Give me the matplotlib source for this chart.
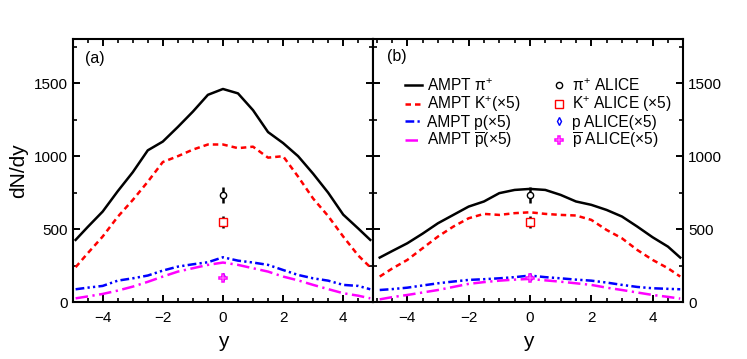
import matplotlib.pyplot as plt
from matplotlib.lines import Line2D
from matplotlib.ticker import MultipleLocator

plt.rcParams['font.family'] = ['Liberation Sans', 'DejaVu Sans']
plt.rcParams['mathtext.fontset'] = 'custom'
plt.rcParams['mathtext.rm'] = 'Liberation Sans'
plt.rcParams['mathtext.it'] = 'Liberation Sans'
plt.rcParams['mathtext.bf'] = 'Liberation Sans:bold'

# rapidity grid of the AMPT curves
y_grid = [-4.9, -4.5, -4, -3.5, -3, -2.5, -2, -1.5, -1, -0.5, 0,
          0.5, 1, 1.5, 2, 2.5, 3, 3.5, 4, 4.5, 4.9]

# panel (a)
pi_a = [427, 515, 621, 760, 890, 1040, 1100, 1200, 1305, 1420, 1460,
        1430, 1315, 1165, 1090, 1000, 880, 750, 600, 505, 427]
k_a = [240, 335, 450, 585, 700, 825, 960, 1000, 1045, 1080, 1080,
       1055, 1065, 990, 1000, 860, 710, 590, 450, 320, 240]
p_a = [89, 100, 112, 148, 164, 183, 217, 244, 260, 274, 308,
       285, 272, 256, 221, 187, 164, 148, 119, 112, 89]
pbar_a = [27, 40, 57, 80, 107, 140, 176, 210, 233, 256, 272,
          256, 233, 210, 176, 150, 119, 90, 62, 45, 27]

# panel (b)
pi_b = [306, 350, 404, 470, 541, 598, 655, 690, 747, 769, 776,
        769, 735, 690, 667, 632, 587, 518, 445, 381, 306]
k_b = [176, 230, 290, 370, 450, 518, 575, 605, 598, 610, 616,
       605, 598, 594, 564, 495, 438, 358, 290, 233, 176]
p_b = [84, 90, 100, 115, 130, 142, 153, 158, 164, 172, 183,
       172, 164, 155, 148, 135, 119, 105, 96, 92, 89]
pbar_b = [20, 35, 50, 67, 84, 105, 126, 138, 148, 155, 160,
          150, 141, 130, 119, 100, 84, 67, 50, 37, 25]

# ALICE points at y = 0 (value, error)
alice_pi = (733, 55)
alice_k = (548, 40)
alice_p = (170, 12)
alice_pbar = (165, 12)

line_labels = [r'AMPT $\pi^{+}$', r'AMPT K$^{+}$(×5)', 'AMPT p(×5)',
               r'AMPT $\overline{\mathrm{p}}$(×5)']
point_labels = [r'$\pi^{+}$ ALICE', r'K$^{+}$ ALICE (×5)', 'p ALICE(×5)',
                r'$\overline{\mathrm{p}}$ ALICE(×5)']

line_styles = [
    dict(color='black', ls='-'),
    dict(color='red', ls=(0, (2.2, 1.6))),
    dict(color='blue', ls=(0, (3.5, 1.3, 0.9, 1.3, 0.9, 1.3))),
    dict(color='magenta', ls=(0, (5, 1.8, 0.9, 1.8))),
]
point_styles = [
    dict(marker='o', ms=4.5, mfc='white', mec='black', mew=1),
    dict(marker='s', ms=5.5, mfc='white', mec='red', mew=1),
    dict(marker='d', ms=4, mfc='white', mec='blue', mew=1),
    dict(marker='P', ms=5.5, mfc='white', mec='magenta', mew=1.1),
]
point_err_colors = ['black', 'black', 'blue', 'magenta']

fig = plt.figure(figsize=(7.47, 3.59), dpi=100)
ax_a = fig.add_axes([0.0972, 0.158, 0.4025, 0.7325])
ax_b = fig.add_axes([0.4997, 0.158, 0.415, 0.7325])


def draw_panel(ax, curves):
    for vals, st, lab in zip(curves, line_styles, line_labels):
        ax.plot(y_grid, vals, lw=1.8, label=lab, **st)

    points = [alice_pi, alice_k, alice_p, alice_pbar]
    for (v, e), st, ec in zip(points, point_styles, point_err_colors):
        ax.errorbar([0], [v], yerr=[e], ls='none', ecolor=ec,
                    elinewidth=1.8 if ec == 'black' else 1, capsize=0, **st)

    ax.set_ylim(0, 1800)
    ax.yaxis.set_major_locator(MultipleLocator(500))
    ax.yaxis.set_minor_locator(MultipleLocator(250))
    ax.xaxis.set_major_locator(MultipleLocator(2))
    ax.xaxis.set_minor_locator(MultipleLocator(0.5))
    ax.tick_params(which='both', direction='in', top=True, right=True,
                   labelsize=11, width=1.4)
    ax.tick_params(axis='x', pad=6)
    ax.tick_params(which='major', length=5)
    ax.tick_params(which='minor', length=3, width=1.2)
    for s in ax.spines.values():
        s.set_linewidth(1.5)
    ax.set_xlabel('y', fontsize=15, labelpad=5)


draw_panel(ax_a, [pi_a, k_a, p_a, pbar_a])
ax_a.set_xlim(-5, 5)
ax_a.set_ylabel('dN/dy', fontsize=15, labelpad=4)
ax_a.text(0.041, 0.957, '(a)', transform=ax_a.transAxes, fontsize=11.5, va='top')

draw_panel(ax_b, [pi_b, k_b, p_b, pbar_b])
ax_b.set_xlim(-5.11, 5)
ax_b.tick_params(labelleft=False, labelright=True)
ax_b.text(0.043, 0.965, '(b)', transform=ax_b.transAxes, fontsize=11.5, va='top')

# legend: AMPT lines in the first column, ALICE markers in the second
handles = [Line2D([], [], lw=1.8, **st) for st in line_styles]
handles += [Line2D([], [], ls='none', **st) for st in point_styles]
ax_b.legend(handles, line_labels + point_labels, ncol=2, frameon=False,
            fontsize=11.2, loc='upper left', bbox_to_anchor=(0.083, 0.88),
            handlelength=1.1, handletextpad=0.3, columnspacing=1.9,
            labelspacing=0.05, borderaxespad=0)

fig.savefig('out.png', dpi=100)
